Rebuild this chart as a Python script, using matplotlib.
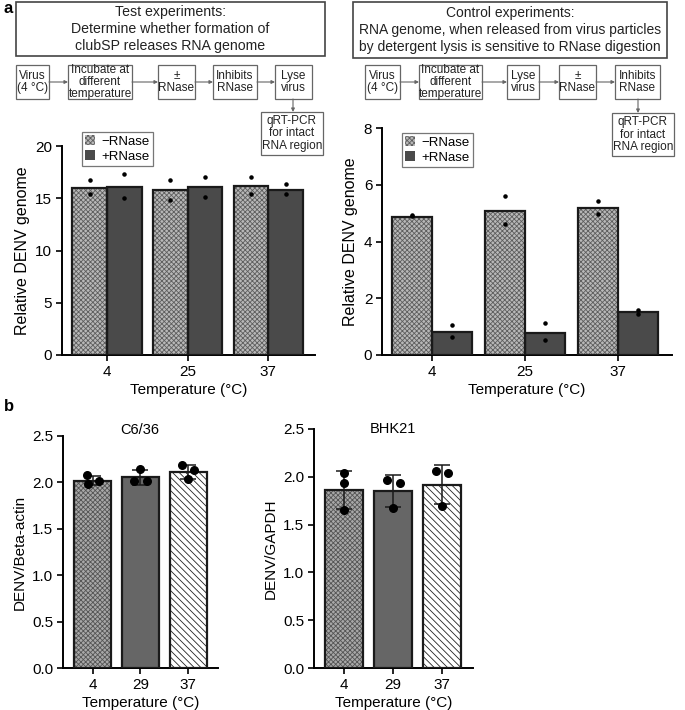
import matplotlib
matplotlib.use("Agg")
import matplotlib.pyplot as plt
from matplotlib.patches import Rectangle, Patch
import numpy as np

plt.rcParams['font.family'] = ['Liberation Sans', 'DejaVu Sans']
plt.rcParams['hatch.linewidth'] = 0.6

# ---- data ----
temps_a = ['4', '25', '37']
test_minus = [16.0, 15.8, 16.17]
test_plus = [16.1, 16.05, 15.8]
test_minus_pts = [[16.75, 15.4], [16.75, 14.8], [17.0, 15.4]]
test_plus_pts = [[17.3, 15.0], [17.07, 15.15], [16.33, 15.4]]

ctrl_minus = [4.88, 5.08, 5.18]
ctrl_plus = [0.82, 0.79, 1.5]
ctrl_minus_pts = [[4.93, 4.89], [5.59, 4.61], [5.41, 4.98]]
ctrl_plus_pts = [[1.06, 0.62], [1.12, 0.53], [1.59, 1.44]]

temps_b = ['4', '29', '37']
c636_mean = [2.02, 2.055, 2.116]
c636_sd = [0.05, 0.08, 0.075]
c636_pts = [[2.076, 1.986, 2.011], [2.148, 2.011, 2.011], [2.19, 2.13, 2.04]]
c636_jit = [[-0.12, -0.11, 0.12], [0.0, -0.13, 0.13], [-0.12, 0.12, 0.0]]

bhk_mean = [1.861, 1.854, 1.917]
bhk_sd = [0.195, 0.165, 0.205]
bhk_pts = [[2.036, 1.94, 1.65], [1.97, 1.93, 1.67], [2.06, 2.036, 1.69]]
bhk_jit = [[0.0, 0.0, 0.0], [-0.12, 0.14, 0.0], [-0.12, 0.12, 0.0]]

W, H = 685, 710
fig = plt.figure(figsize=(6.85, 7.1), dpi=100)


def px_axes(x0, y0, x1, y1):
    return fig.add_axes([x0 / W, 1 - y1 / H, (x1 - x0) / W, (y1 - y0) / H])


TEX_FC, TEX_HC = '#b8b8b8', '#5e5e5e'
DARK = '#4a4a4a'


def textured_bar(ax, x, h, w, fc, hatch=None, hc=None):
    if hatch:
        ax.bar(x, h, w, color=fc, edgecolor=hc, hatch=hatch, lw=0, zorder=2)
    else:
        ax.bar(x, h, w, color=fc, lw=0, zorder=2)
    ax.bar(x, h, w, fill=False, edgecolor='#1a1a1a', lw=1.6, zorder=3)


def style(ax):
    for s in ['top', 'right']:
        ax.spines[s].set_visible(False)
    for s in ['left', 'bottom']:
        ax.spines[s].set_linewidth(1.4)
    ax.tick_params(direction='out', length=4, width=1.2, labelsize=11, pad=3)


# ---- panel a, bar charts ----
def panel_a(ax, minus, plus, mpts, ppts, ylim, yticks, xlim):
    x = np.arange(len(temps_a))
    bw = 0.43
    for i in range(len(x)):
        textured_bar(ax, x[i] - bw / 2, minus[i], bw, TEX_FC, 'xxxxxxx', TEX_HC)
        textured_bar(ax, x[i] + bw / 2, plus[i], bw, DARK)
        ax.scatter([x[i] - bw / 2] * len(mpts[i]), mpts[i], s=5, color='black', zorder=4)
        ax.scatter([x[i] + bw / 2] * len(ppts[i]), ppts[i], s=5, color='black', zorder=4)
    ax.set_xticks(x)
    ax.set_xticklabels(temps_a)
    ax.set_xlim(*xlim)
    ax.set_ylim(*ylim)
    ax.set_yticks(yticks)
    ax.set_xlabel('Temperature (°C)', fontsize=11, labelpad=3)
    ax.set_ylabel('Relative DENV genome', fontsize=11.5)
    style(ax)


ax1 = px_axes(62, 146, 315, 355)
panel_a(ax1, test_minus, test_plus, test_minus_pts, test_plus_pts,
        (0, 20), [0, 5, 10, 15, 20], (-0.56, 2.58))
ax2 = px_axes(382, 128, 672, 355)
panel_a(ax2, ctrl_minus, ctrl_plus, ctrl_minus_pts, ctrl_plus_pts,
        (0, 8), [0, 2, 4, 6, 8], (-0.54, 2.58))

for ax, (lx, ly) in [(ax1, (82, 132)), (ax2, (402, 133))]:
    handles = [Patch(facecolor=TEX_FC, edgecolor=TEX_HC, hatch='xxxxxxx', lw=0, label='\u2212RNase'),
               Patch(facecolor=DARK, lw=0, label='+RNase')]
    leg = ax.legend(handles=handles, loc='upper left', bbox_to_anchor=(lx / W, 1 - ly / H),
                    bbox_transform=fig.transFigure, fancybox=False, framealpha=1,
                    edgecolor='#777777', fontsize=9.5, handlelength=0.75, handleheight=0.75,
                    handletextpad=0.5, borderpad=0.25, labelspacing=0.2, borderaxespad=0)
    leg.get_frame().set_linewidth(0.9)


# ---- panel b ----
def panel_b(ax, mean, sd, pts, jit, ylabel, xlim):
    x = np.arange(len(temps_b))
    bw = 0.78
    textured_bar(ax, x[0], mean[0], bw, '#a8a8a8', 'xxxxxxx', '#555555')
    textured_bar(ax, x[1], mean[1], bw, '#666666')
    textured_bar(ax, x[2], mean[2], bw, 'white', '\\\\\\\\\\', '#222222')
    ax.errorbar(x, mean, yerr=sd, fmt='none', ecolor='#1a1a1a', elinewidth=1.1,
                capsize=6, capthick=1.1, zorder=4)
    for i in range(len(x)):
        ax.scatter(x[i] + np.array(jit[i]), pts[i], s=30, color='black', zorder=5)
    ax.set_xticks(x)
    ax.set_xticklabels(temps_b)
    ax.set_xlim(*xlim)
    ax.set_ylim(0, 2.5)
    ax.set_yticks([0, 0.5, 1.0, 1.5, 2.0, 2.5])
    ax.set_yticklabels(['0.0', '0.5', '1.0', '1.5', '2.0', '2.5'])
    ax.set_xlabel('Temperature (°C)', fontsize=11, labelpad=3)
    ax.set_ylabel(ylabel, fontsize=11)
    style(ax)


ax3 = px_axes(63, 436, 218, 668)
panel_b(ax3, c636_mean, c636_sd, c636_pts, c636_jit, 'DENV/Beta-actin', (-0.63, 2.63))
ax4 = px_axes(314, 429, 473, 668)
panel_b(ax4, bhk_mean, bhk_sd, bhk_pts, bhk_jit, 'DENV/GAPDH', (-0.61, 2.63))

# ---- flow chart overlay (pixel coordinates) ----
ov = fig.add_axes([0, 0, 1, 1], zorder=10)
ov.set_xlim(0, W)
ov.set_ylim(H, 0)
ov.axis('off')


def box(x0, y0, x1, y1, lines, fs=8.5, ec='#666666', lw=0.9, ls=None):
    ov.add_patch(Rectangle((x0, y0), x1 - x0, y1 - y0, fill=False, edgecolor=ec, lw=lw))
    ov.text((x0 + x1) / 2, (y0 + y1) / 2, '\n'.join(lines), ha='center', va='center',
            fontsize=fs, color='#222222', linespacing=ls or 0.98)


def arrow(x0, y0, x1, y1):
    ov.annotate('', xy=(x1, y1), xytext=(x0, y0),
                arrowprops=dict(arrowstyle='-|>', color='#666666', lw=0.8,
                                mutation_scale=5, shrinkA=0, shrinkB=0))


fig.text(4 / W, 1 - 13 / H, 'a', fontsize=12, fontweight='bold', va='baseline')
fig.text(4 / W, 1 - 411 / H, 'b', fontsize=12, fontweight='bold', va='baseline')

box(16, 2, 325, 56, ['Test experiments:', 'Determine whether formation of',
                     'clubSP releases RNA genome'], fs=10.2, ec='#444444', lw=1.2, ls=1.3)
box(353, 2, 667, 58, ['Control experiments:', 'RNA genome, when released from virus particles',
                      'by detergent lysis is sensitive to RNase digestion'],
    fs=10, ec='#444444', lw=1.2, ls=1.3)

# left flow
box(16, 65, 49, 99, ['Virus', '(4 °C)'])
box(68, 65, 132, 99, ['Incubate at', 'different', 'temperature'])
box(158, 65, 195, 99, ['±', 'RNase'])
box(213, 65, 257, 99, ['Inhibits', 'RNase'])
box(275, 65, 312, 99, ['Lyse', 'virus'])
box(261, 112, 323, 155, ['qRT-PCR', 'for intact', 'RNA region'], ls=1.1)
arrow(49, 82, 68, 82)
arrow(132, 82, 158, 82)
arrow(195, 82, 213, 82)
arrow(257, 82, 275, 82)
arrow(293, 99, 293, 112)

# right flow
box(365, 65, 400, 99, ['Virus', '(4 °C)'])
box(419, 65, 482, 99, ['Incubate at', 'different', 'temperature'])
box(507, 65, 539, 99, ['Lyse', 'virus'])
box(559, 65, 596, 99, ['±', 'RNase'])
box(615, 65, 660, 99, ['Inhibits', 'RNase'])
box(612, 113, 674, 156, ['qRT-PCR', 'for intact', 'RNA region'], ls=1.1)
arrow(400, 82, 419, 82)
arrow(482, 82, 507, 82)
arrow(539, 82, 559, 82)
arrow(596, 82, 615, 82)
arrow(638, 99, 638, 113)

fig.text(140 / W, 1 - 430 / H, 'C6/36', fontsize=10.5, ha='center', va='center')
fig.text(393 / W, 1 - 429 / H, 'BHK21', fontsize=10.5, ha='center', va='center')

fig.savefig('out.png', dpi=100)
